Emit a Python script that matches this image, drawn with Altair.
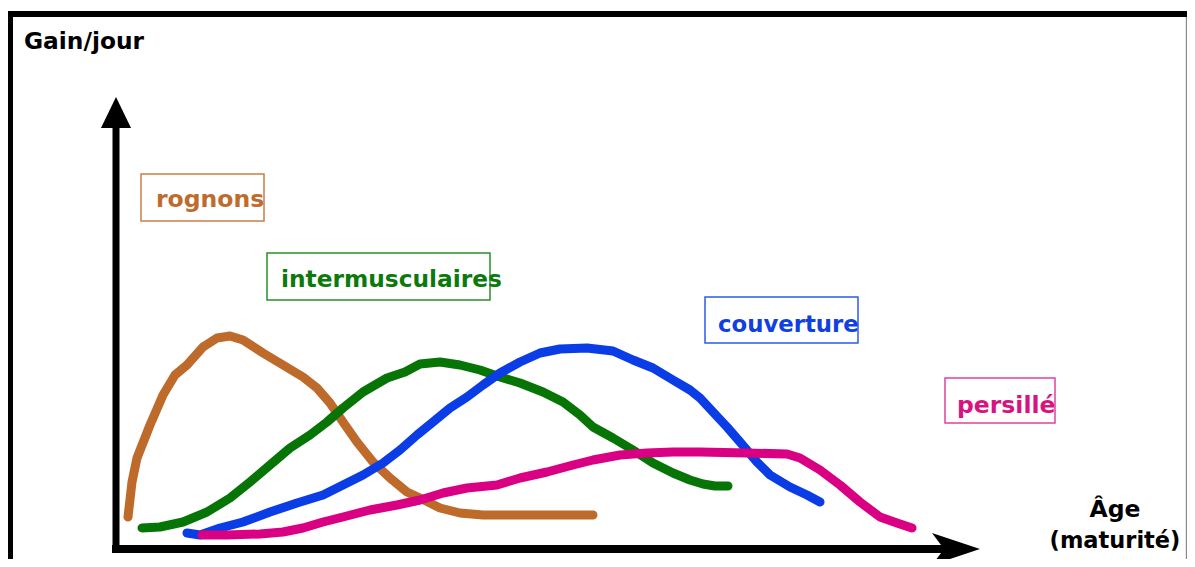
import altair as alt
import pandas as pd

# ---- data (image pixel units: x to the right, y downward) ----
series_names = ["rognons", "intermusculaires", "couverture", "persillé"]

rognons_x = [128, 132, 137, 150, 163, 175, 187, 203, 217, 230, 243, 263, 283, 303, 317, 330,
             343, 357, 373, 390, 407, 420, 440, 460, 483, 517, 550, 593]
rognons_y = [517, 482, 458, 425, 395, 375, 365, 347, 338, 336, 340, 353, 365, 377, 388, 403,
             422, 442, 462, 478, 492, 498, 508, 513, 515, 515, 515, 515]

inter_x = [142, 160, 183, 207, 230, 250, 270, 290, 310, 327, 343, 363, 387, 405, 420, 440, 460,
           480, 500, 520, 543, 563, 580, 593, 613, 633, 653, 673, 690, 703, 715, 728]
inter_y = [528, 527, 522, 512, 498, 482, 465, 448, 435, 422, 408, 392, 378, 372, 364, 362, 365,
           370, 377, 383, 392, 402, 415, 427, 438, 450, 463, 473, 480, 484, 486, 486]

couv_x = [187, 200, 220, 243, 270, 297, 323, 343, 363, 383, 400, 417, 433, 450, 467, 483, 500,
          520, 540, 560, 587, 613, 633, 653, 673, 690, 700, 713, 727, 740, 757, 770, 790, 807, 820]
couv_y = [533, 535, 528, 522, 512, 503, 495, 485, 475, 463, 450, 435, 422, 408, 397, 385, 373,
          362, 353, 349, 348, 351, 360, 368, 380, 390, 398, 412, 427, 442, 462, 475, 487, 495, 502]

pers_x = [202, 227, 260, 283, 303, 323, 343, 370, 397, 420, 443, 467, 497, 520, 547, 573, 593,
          620, 647, 673, 700, 747, 787, 800, 820, 840, 860, 880, 897, 912]
pers_y = [535, 535, 534, 532, 528, 522, 517, 510, 505, 500, 493, 488, 485, 478, 472, 465, 460,
          455, 453, 452, 452, 453, 454, 458, 470, 485, 502, 517, 523, 528]

curve_x = [rognons_x, inter_x, couv_x, pers_x]
curve_y = [rognons_y, inter_y, couv_y, pers_y]

# ---- layout / style ----
W, H = 1179, 551
X0, Y0 = 8, 8
curve_colors = ["#BD6A2B", "#067506", "#0A3DE6", "#DA0083"]
text_colors = ["#BF6B2E", "#0B7A0B", "#1040E0", "#D8137F"]
box_colors = ["#C97F47", "#2A8F2A", "#2E5BEA", "#E0409A"]
label_pos = [(156, 207), (281, 287), (718, 332), (957, 413)]
boxes = [(141, 264, 174, 221), (267, 490, 253, 300), (705, 858, 297, 343), (945, 1055, 378, 423)]
FONT = "DejaVu Sans"
FS = [23.5, 23.3, 22.8, 23.5]

xs = alt.Scale(domain=[X0, X0 + W], nice=False, zero=False)
ys = alt.Scale(domain=[Y0, Y0 + H], nice=False, zero=False, reverse=True)


def X(f="x"):
    return alt.X(f"{f}:Q", scale=xs, axis=None)


def Y(f="y"):
    return alt.Y(f"{f}:Q", scale=ys, axis=None)


layers = []

# frame
frame = pd.DataFrame({
    "x": [X0, 10.5, X0 + W - 0.6], "x2": [X0 + W, 10.5, X0 + W - 0.6],
    "y": [14, 11, 17], "y2": [14, Y0 + H, Y0 + H],
    "w": [6, 5, 1.2], "c": ["#000000", "#000000", "#8a8a8a"],
})
for _, r in frame.iterrows():
    d = pd.DataFrame([r])
    layers.append(alt.Chart(d).mark_rule(color=r["c"], strokeWidth=float(r["w"])).encode(
        x=X(), x2="x2:Q", y=Y(), y2="y2:Q"))

# axes
axis_df = pd.DataFrame({"x": [116, 116], "x2": [116, 950], "y": [120, 549], "y2": [549, 549],
                        "w": [7, 8]})
for _, r in axis_df.iterrows():
    d = pd.DataFrame([r])
    layers.append(alt.Chart(d).mark_rule(color="black", strokeWidth=float(r["w"]),
                                         strokeCap="square").encode(
        x=X(), x2="x2:Q", y=Y(), y2="y2:Q"))

up_head = pd.DataFrame({"x": [116], "y": [112.5]})
layers.append(alt.Chart(up_head).mark_point(shape="M0,-1L0.97,1L-0.97,1Z", size=961, filled=True,
                                            opacity=1, color="black", strokeWidth=0).encode(
    x=X(), y=Y()))
right_head = pd.DataFrame({"x": [956], "y": [549]})
layers.append(alt.Chart(right_head).mark_point(shape="M1,0L-1,-0.667L-0.5,0L-1,0.667Z", size=2304,
                                               filled=True, opacity=1, color="black",
                                               strokeWidth=0).encode(x=X(), y=Y()))

# curves
for name, cx, cy, col in zip(series_names, curve_x, curve_y, curve_colors):
    d = pd.DataFrame({"x": cx, "y": cy, "o": list(range(len(cx))), "s": name})
    layers.append(alt.Chart(d).mark_line(color=col, strokeWidth=9, strokeCap="round",
                                         strokeJoin="round", interpolate="linear").encode(
        x=X(), y=Y(), order="o:Q"))

# label boxes and labels
for name, (bx1, bx2, by1, by2), bc, (tx, ty), tc, fs in zip(series_names, boxes, box_colors,
                                                             label_pos, text_colors, FS):
    bd = pd.DataFrame({"x": [bx1], "x2": [bx2], "y": [by1], "y2": [by2]})
    layers.append(alt.Chart(bd).mark_rect(fill=None, fillOpacity=0, stroke=bc,
                                          strokeWidth=1.5).encode(
        x=X(), x2="x2:Q", y=Y(), y2="y2:Q"))
    td = pd.DataFrame({"x": [tx], "y": [ty], "t": [name]})
    layers.append(alt.Chart(td).mark_text(align="left", baseline="alphabetic", font=FONT,
                                          fontWeight="bold", fontSize=fs, color=tc).encode(
        x=X(), y=Y(), text="t:N"))

# axis titles
titles = pd.DataFrame({"x": [24, 1115, 1115], "y": [49, 517, 548],
                       "t": ["Gain/jour", "Âge", "(maturité)"],
                       "a": ["left", "center", "center"],
                       "fs": [23.3, 23.5, 22.5]})
for _, r in titles.iterrows():
    d = pd.DataFrame([r])
    layers.append(alt.Chart(d).mark_text(align=r["a"], baseline="alphabetic", font=FONT,
                                         fontWeight="bold", fontSize=float(r["fs"]),
                                         color="black").encode(
        x=X(), y=Y(), text="t:N"))

chart = alt.layer(*layers).properties(
    width=W, height=H, padding=0, autosize=alt.AutoSizeParams(type="none"),
    background="white"
).configure_view(stroke=None)

chart.save("out.html", embed_options={"renderer": "svg", "actions": False})
